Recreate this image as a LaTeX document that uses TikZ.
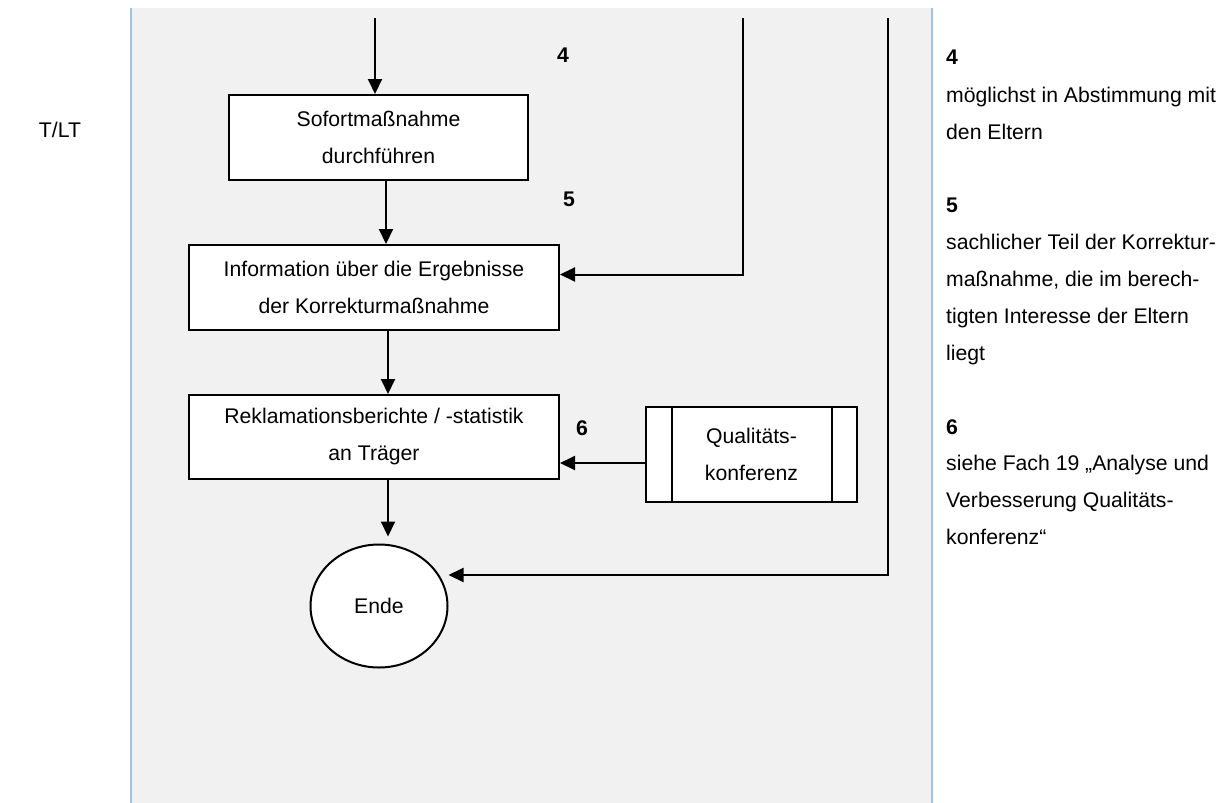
\documentclass[tikz,border=0pt]{standalone}
\usepackage{fontspec}
\setmainfont{Liberation Sans}
\usetikzlibrary{arrows.meta,shapes.geometric}
\definecolor{panelgray}{HTML}{F1F1F1}
\definecolor{laneblue}{HTML}{9DC3E6}
\begin{document}
\begin{tikzpicture}[x=1pt,y=-1pt,
  every node/.style={font=\fontsize{21.2}{37}\selectfont},
  procbox/.style={draw=black,line width=2pt,fill=white,rectangle,align=center,inner sep=0pt},
  flow/.style={line width=2pt,-{Triangle[length=15pt,width=14pt]}},
  numlabel/.style={font=\fontsize{21.2}{37}\selectfont\bfseries},
  noteline/.style={anchor=base west,inner sep=0pt},
]
\useasboundingbox (0,0) rectangle (1232,803);

% swimlane background and borders
\fill[panelgray] (131,8) rectangle (932,803);
\draw[laneblue,line width=2.2pt] (131,8) -- (131,803);
\draw[laneblue,line width=2.2pt] (932,8) -- (932,803);

% role label
\node (role) at (60,130) {T/LT};

% process steps
\node[procbox,minimum width=299pt,minimum height=85pt] (box1) at (378.5,137.5)
  {Sofortmaßnahme\\durchführen};
\node[procbox,minimum width=370pt,minimum height=85pt] (box2) at (374,287.5)
  {Information über die Ergebnisse\\der Korrekturmaßnahme};
\node[procbox,minimum width=370pt,minimum height=84pt] (box3) at (374,437)
  {Reklamationsberichte / -statistik\\an Träger};

% predefined process: Qualitätskonferenz
\node[procbox,minimum width=211pt,minimum height=95pt] (qk) at (751.5,454.5)
  {Qualitäts-\\konferenz};
\draw[line width=1.7pt] ([xshift=27pt]qk.north west) -- ([xshift=27pt]qk.south west);
\draw[line width=1.7pt] ([xshift=-26pt]qk.north east) -- ([xshift=-26pt]qk.south east);

% terminator
\node[draw=black,line width=2pt,fill=white,ellipse,minimum width=137pt,minimum height=123pt,inner sep=0pt]
  (ende) at (379,606) {Ende};

% step numbers
\node[numlabel] (n4) at (563,55) {4};
\node[numlabel] (n5) at (569,199) {5};
\node[numlabel] (n6) at (582,428) {6};

% connector helpers
\coordinate (in1) at (375,18);
\coordinate (colA) at (386,0);
\coordinate (colB) at (388,0);
\coordinate (in2) at (743,18);
\coordinate (in3) at (888,18);

% connectors
\draw[flow] (in1) -- (in1 |- box1.north);
\draw[flow] (box1.south -| colA) -- (box2.north -| colA);
\draw[flow] (box2.south -| colB) -- (box3.north -| colB);
\draw[flow,shorten >=7pt] (box3.south -| colB) -- (colB |- ende.north);
\draw[flow] (in2) |- ([yshift=13pt]box2.east);
\draw[flow] ([yshift=-8.5pt]qk.west) -- ([yshift=-8.5pt]qk.west -| box3.east);
\draw[flow] (in3) |- ([yshift=31pt]ende.east);

% side notes
\node[noteline] (note4) at (946,64.5) {\textbf{4}};
\node[noteline] (note4a) at (946,102) {möglichst in Abstimmung mit};
\node[noteline] (note4b) at (946,139) {den Eltern};
\node[noteline] (note5) at (946,212) {\textbf{5}};
\node[noteline] (note5a) at (946,249) {sachlicher Teil der Korrektur-};
\node[noteline] (note5b) at (946,286) {maßnahme, die im berech-};
\node[noteline] (note5c) at (946,323) {tigten Interesse der Eltern};
\node[noteline] (note5d) at (946,360) {liegt};
\node[noteline] (note6) at (946,434.5) {\textbf{6}};
\node[noteline] (note6a) at (946,470.5) {siehe Fach 19 „Analyse und};
\node[noteline] (note6b) at (946,507.5) {Verbesserung Qualitäts-};
\node[noteline] (note6c) at (946,544.5) {konferenz“};
\end{tikzpicture}
\end{document}
